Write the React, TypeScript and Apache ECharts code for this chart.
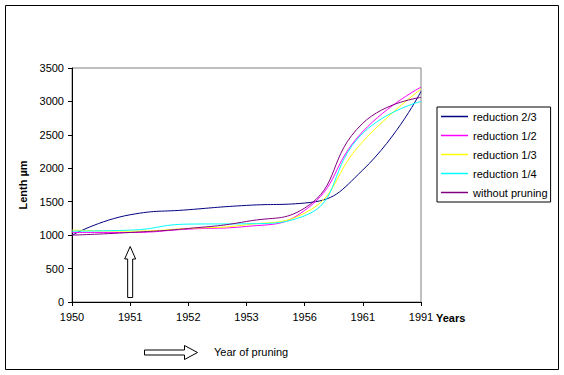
import React, { useEffect, useRef } from "react";
import * as echarts from "echarts";

const categories = ["1950", "1951", "1952", "1953", "1956", "1961", "1991"];
const reduction23 = [1000, 1305, 1380, 1445, 1480, 1975, 3150];
const reduction12 = [1040, 1040, 1090, 1130, 1370, 2550, 3215];
const reduction13 = [1075, 1060, 1100, 1155, 1330, 2400, 3185];
const reduction14 = [1060, 1075, 1165, 1170, 1290, 2525, 3000];
const withoutPruning = [1000, 1040, 1100, 1205, 1405, 2675, 3060];
const yTicks = { min: 0, max: 3500, interval: 500 };

const FONT = "'Liberation Sans', Arial, sans-serif";

export default function App() {
  const ref = useRef<HTMLDivElement>(null);
  useEffect(() => {
    if (!ref.current) return;
    const chart = echarts.init(ref.current, undefined, { renderer: "svg" });
    const mk = (name: string, data: number[], color: string) => ({
      name,
      type: "line",
      data,
      smooth: 0.5,
      symbol: "none",
      lineStyle: { color, width: 1 },
      itemStyle: { color },
    });
    chart.setOption({
      animation: false,
      backgroundColor: "#fff",
      textStyle: { fontFamily: FONT },
      grid: {
        left: 72,
        right: 143,
        top: 68,
        bottom: 73,
        show: true,
        borderColor: "#808080",
        borderWidth: 1,
        backgroundColor: "transparent",
      },
      legend: {
        orient: "vertical",
        left: 437,
        top: 107,
        padding: [3, 3, 3, 4],
        itemGap: 6,
        itemWidth: 27,
        itemHeight: 1.5,
        itemTextGap: 3,
        icon: "rect",
        borderColor: "#000",
        borderWidth: 1,
        textStyle: { fontFamily: FONT, fontSize: 11, color: "#000", lineHeight: 13 },
      },
      xAxis: {
        type: "category",
        data: categories,
        boundaryGap: false,
        axisLine: { lineStyle: { color: "#000", width: 1 } },
        axisTick: { show: true, length: 4, alignWithLabel: true, lineStyle: { color: "#000" } },
        axisLabel: { color: "#000", fontSize: 11, fontFamily: FONT, margin: 9 },
        splitLine: { show: false },
      },
      yAxis: {
        type: "value",
        min: yTicks.min,
        max: yTicks.max,
        interval: yTicks.interval,
        name: "Lenth µm",
        nameLocation: "middle",
        nameGap: 32,
        nameTextStyle: { fontFamily: FONT, fontSize: 11, fontWeight: "bold", color: "#000" },
        axisLine: { show: true, lineStyle: { color: "#000", width: 1 } },
        axisTick: { show: true, length: 4, lineStyle: { color: "#000" } },
        axisLabel: {
          color: "#000",
          fontSize: 11,
          fontFamily: FONT,
          margin: 8,
          formatter: (v: number) => String(v),
        },
        splitLine: { show: false },
      },
      series: [
        mk("reduction 2/3", reduction23, "#000080"),
        mk("reduction 1/2", reduction12, "#FF00FF"),
        mk("reduction 1/3", reduction13, "#FFFF00"),
        mk("reduction 1/4", reduction14, "#00FFFF"),
        mk("without pruning", withoutPruning, "#800080"),
      ],
    });
    const p = chart.convertToPixel({ xAxisIndex: 0, yAxisIndex: 0 }, ["1951", 0]) as number[];
    const ax = p[0];
    const yearsX = (chart.convertToPixel({ xAxisIndex: 0 }, "1991") as number) + 15;
    chart.setOption({
      graphic: [
        {
          type: "rect",
          silent: true,
          shape: { x: 5.5, y: 5.5, width: 553, height: 364 },
          style: { fill: "none", stroke: "#000", lineWidth: 1 },
          z: 100,
        },
        {
          type: "polygon",
          silent: true,
          shape: {
            points: [
              [ax - 2.5, 297.5],
              [ax + 2.5, 297.5],
              [ax + 2.5, 259],
              [ax + 5.5, 259],
              [ax, 246.5],
              [ax - 5.5, 259],
              [ax - 2.5, 259],
            ],
          },
          style: { fill: "#fff", stroke: "#000", lineWidth: 1 },
          z: 100,
        },
        {
          type: "polygon",
          silent: true,
          shape: {
            points: [
              [144.5, 350],
              [184.5, 350],
              [184.5, 345.5],
              [197.5, 352.5],
              [184.5, 359.5],
              [184.5, 355],
              [144.5, 355],
            ],
          },
          style: { fill: "#fff", stroke: "#000", lineWidth: 1 },
          z: 100,
        },
        {
          type: "text",
          silent: true,
          left: 214,
          top: 346,
          style: { text: "Year of pruning", fontFamily: FONT, fontSize: 11, fill: "#000" },
          z: 100,
        },
        {
          type: "text",
          silent: true,
          left: yearsX,
          top: 312,
          style: { text: "Years", fontFamily: FONT, fontSize: 11, fontWeight: "bold", fill: "#000" },
          z: 100,
        },
      ],
    });
    return () => chart.dispose();
  }, []);
  return <div ref={ref} style={{ width: 564, height: 375, position: "absolute", left: 0, top: 0 }} />;
}
